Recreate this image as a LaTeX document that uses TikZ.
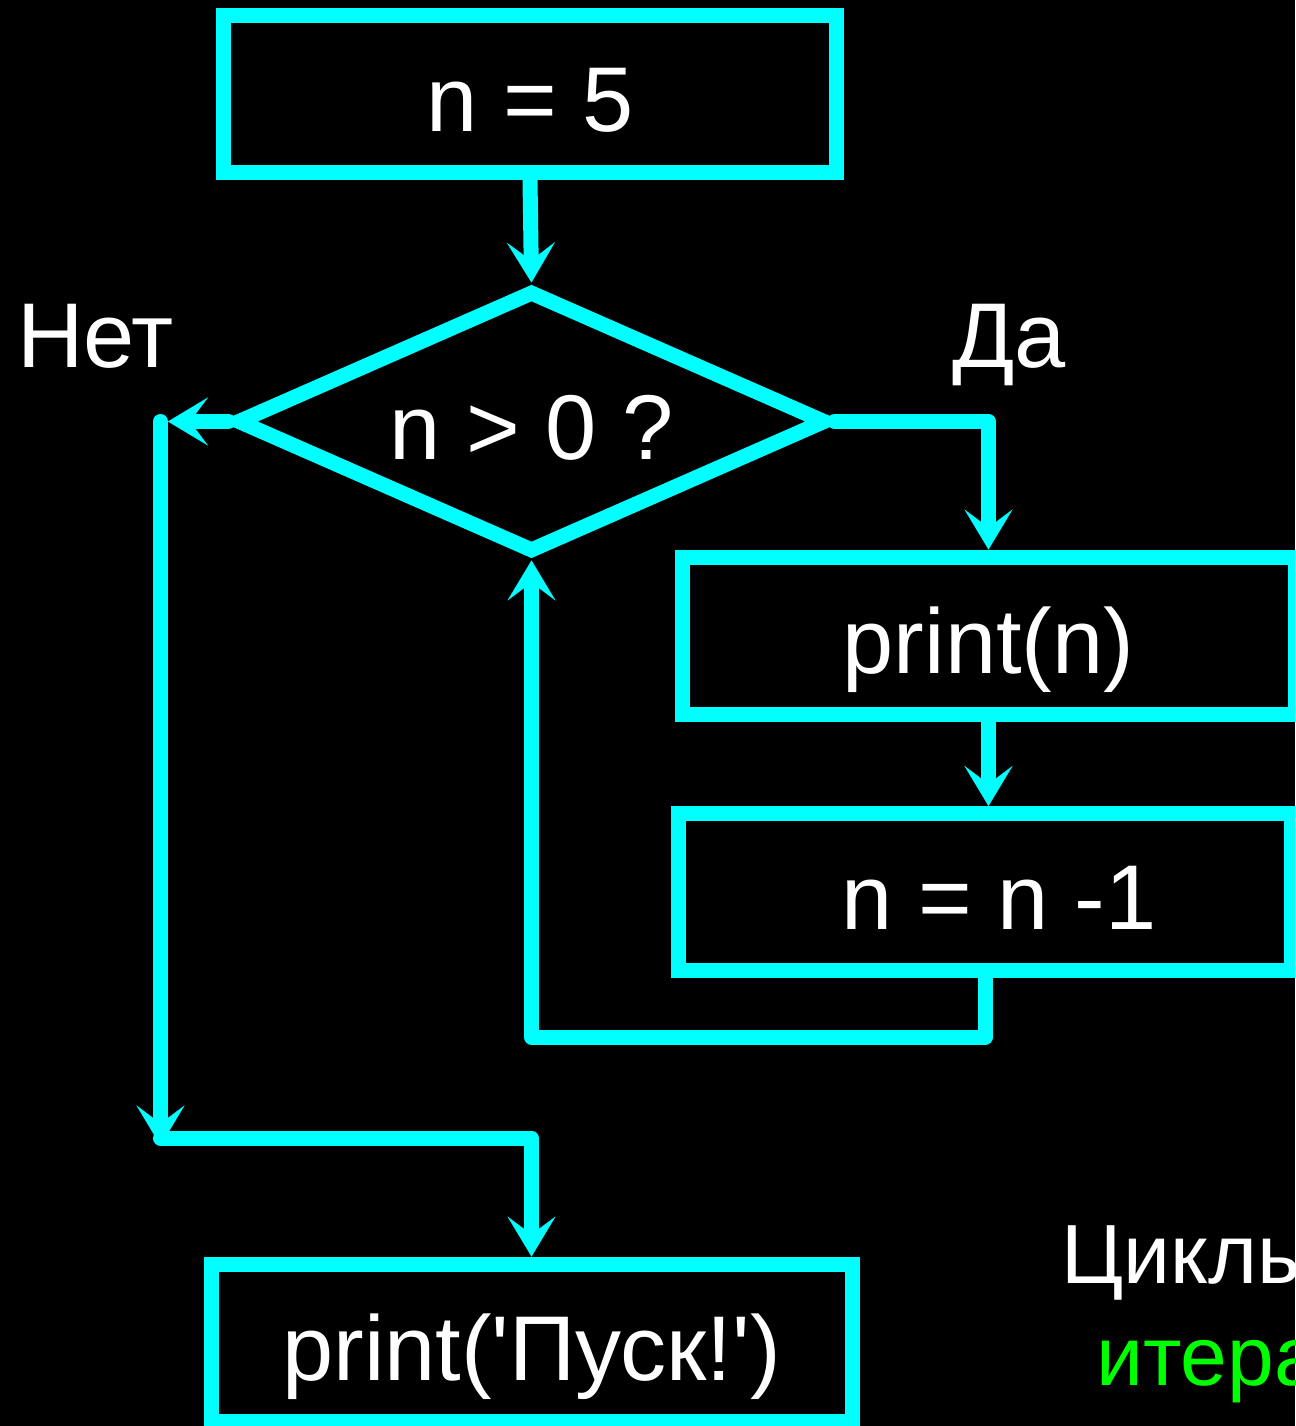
\documentclass[tikz,border=0pt]{standalone}
\usepackage{fontspec}
\setmainfont{Liberation Sans}[Ligatures=TeXOff]
\usetikzlibrary{arrows.meta,shapes.geometric}
\definecolor{flowcyan}{RGB}{0,255,255}
\definecolor{flowgreen}{RGB}{0,255,0}
\tikzset{
  bigtext/.style={text=white, font=\fontsize{69}{80}\selectfont, inner sep=0pt},
  box/.style={bigtext, draw=flowcyan, line width=11.25pt, fill=black,
    text height=57pt, text depth=0pt},
  decision/.style={box, diamond, shape aspect=2.247},
  conn/.style={draw=flowcyan, line width=11.25pt, line cap=round, line join=round},
  arr/.style={conn, -{Stealth[length=30pt, width=36pt, inset=13.5pt, line width=0.1pt]}},
  side/.style={bigtext, anchor=base west},
  note/.style={text=white, font=\fontsize{63}{72}\selectfont, inner sep=0pt, anchor=base west}
}
\begin{document}
\begin{tikzpicture}[x=0.75pt, y=-0.75pt]
  % page frame and black background
  \useasboundingbox (0,0) rectangle (1295,1426);
  \clip (0,0) rectangle (1295,1426);
  \fill[black] (0,0) rectangle (1295,1426);

  % flowchart blocks
  \node[box, minimum width=459.75pt, minimum height=118.1pt] (start) at (530,93.75) {n = 5};
  \node[decision, minimum width=443.25pt, minimum height=197.25pt] (cond) at (531.5,421.5) {n > 0 ?};
  \node[box, minimum width=459.75pt, minimum height=117.75pt] (show) at (988.5,635.5) {print(n)};
  \node[box, minimum width=459.4pt, minimum height=117.4pt] (decr) at (985.25,891.75) {\hspace*{21pt}n = n -1};
  \node[box, minimum width=480.75pt, minimum height=118.1pt] (finish) at (531.5,1342.75) {print('Пуск!')};

  % branch labels
  \node[side] (nolbl) at (17,367) {Нет};
  \node[side] (yeslbl) at (952,367) {Да};

  % bend points of the connectors
  \coordinate (yesC) at (cond.east -| show.north);
  \coordinate (noTop) at (160.5,421.5);
  \coordinate (noBot) at (160.5,1138);
  \coordinate (joinR) at (finish.north |- noBot);
  \coordinate (loopR) at (985.25,1037);
  \coordinate (loopL) at (cond.south |- loopR);

  % connectors
  \draw[arr] (start.south) -- (cond.north);
  \draw[arr] (cond.east) -- (yesC) -- (show.north);
  \draw[arr] (show.south) -- (show.south |- decr.north);
  \draw[arr] (decr.south) -- (loopR) -- (loopL) -- (cond.south);
  \draw[arr, shorten >=5.6pt] (cond.west) -- (noTop);
  \draw[arr, shorten >=-5.6pt] (noTop) -- (noBot);
  \draw[arr] (noBot) -- (joinR) -- (finish.north);

  % side note, running off the right edge
  \node[note] (cyc) at (1061,1283) {Циклы};
  \node[note, text=flowgreen] (iter) at (1096,1385) {итерации};
\end{tikzpicture}
\end{document}
